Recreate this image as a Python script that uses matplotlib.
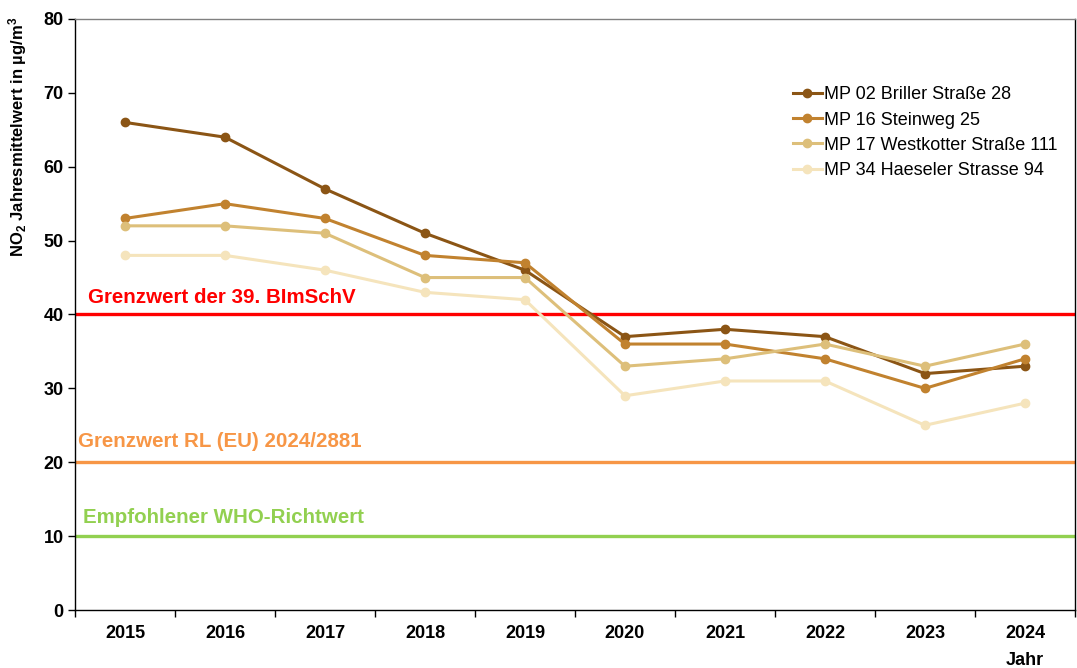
import matplotlib
matplotlib.use("Agg")
import matplotlib.pyplot as plt
import numpy as np

plt.rcParams["font.family"] = ["Liberation Sans", "DejaVu Sans"]
plt.rcParams["mathtext.fontset"] = "custom"
plt.rcParams["mathtext.rm"] = "Liberation Sans:bold"
plt.rcParams["mathtext.default"] = "rm"

years = ["2015", "2016", "2017", "2018", "2019", "2020", "2021", "2022", "2023", "2024"]
mp02 = [66, 64, 57, 51, 46, 37, 38, 37, 32, 33]
mp16 = [53, 55, 53, 48, 47, 36, 36, 34, 30, 34]
mp17 = [52, 52, 51, 45, 45, 33, 34, 36, 33, 36]
mp34 = [48, 48, 46, 43, 42, 29, 31, 31, 25, 28]
series_names = ["MP 02 Briller Straße 28", "MP 16 Steinweg 25",
                "MP 17 Westkotter Straße 111", "MP 34 Haeseler Strasse 94"]
series_colors = ["#8B5515", "#C1822F", "#DDBF7A", "#F5E4BC"]

limits = [40, 20, 10]
limit_names = ["Grenzwert der 39. BImSchV", "Grenzwert RL (EU) 2024/2881",
               "Empfohlener WHO-Richtwert"]
limit_colors = ["#FF0000", "#F79646", "#92D050"]

fig = plt.figure(figsize=(10.77, 6.68), dpi=100)
ax = fig.add_axes([0.0696, 0.0868, 0.9285, 0.8848])

x = np.arange(len(years))

# limit lines first, series on top
for val, name, col, dx, dy in zip(limits, limit_names, limit_colors,
                                  [0.13, 0.03, 0.08], [1.0, 1.5, 1.3]):
    ax.axhline(val, color=col, lw=2.4, zorder=2)
    ax.text(-0.5 + dx, val + dy, name, color=col, fontsize=14.8,
            fontweight="bold", va="bottom", ha="left")

for vals, name, col in zip([mp02, mp16, mp17, mp34], series_names, series_colors):
    ax.plot(x, vals, color=col, lw=2.2, marker="o", ms=6, label=name, zorder=3)

ax.set_xlim(-0.5, len(years) - 0.5)
ax.set_ylim(0, 80)
ax.set_yticks(range(0, 81, 10))
ax.set_xticks(x)
ax.set_xticklabels(years, fontsize=13, fontweight="bold")
ax.set_xticks(np.arange(-0.5, len(years)), minor=True)
ax.tick_params(axis="x", which="major", length=0, pad=11)
ax.tick_params(axis="x", which="minor", length=5, width=1, direction="out")
ax.tick_params(axis="y", length=5, width=1, direction="out", labelsize=13, pad=3)
for lab in ax.get_yticklabels():
    lab.set_fontweight("bold")

for side in ["left", "bottom", "right"]:
    ax.spines[side].set_color("black")
    ax.spines[side].set_linewidth(1)
ax.spines["top"].set_color("#808080")
ax.spines["top"].set_linewidth(1)

ax.set_ylabel("NO$_2$ Jahresmittelwert in µg/m$^3$", fontsize=12, fontweight="bold")
ax.yaxis.set_label_coords(-0.046, 0.80)

ax.text(9, -6.8, "Jahr", ha="center", va="center", fontsize=13, fontweight="bold")

leg = ax.legend(loc="upper right", bbox_to_anchor=(0.99, 0.898), frameon=False,
                fontsize=13, handlelength=1.6, handletextpad=0.15, labelspacing=0.45,
                borderaxespad=0)

fig.savefig("out.png", dpi=100)
